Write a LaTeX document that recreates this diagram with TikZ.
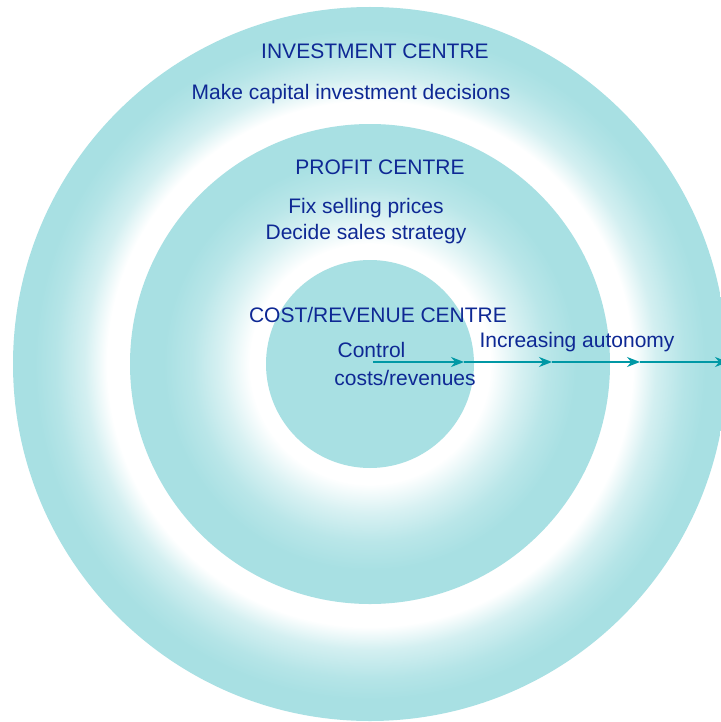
\documentclass[tikz,border=0pt]{standalone}
\usepackage{fontspec}
\setmainfont{Liberation Sans}
\usetikzlibrary{arrows.meta}
\definecolor{tq}{RGB}{168,224,227}
\definecolor{dblue}{RGB}{14,40,148}
\definecolor{tarrow}{RGB}{0,152,165}
\pgfdeclareradialshading{investring}{\pgfpoint{0bp}{0bp}}{color(0bp)=(white); color(18.4bp)=(white); color(20bp)=(tq!50!white); color(22bp)=(tq!85!white); color(23.5bp)=(tq); color(25bp)=(tq); color(50bp)=(tq)}
\pgfdeclareradialshading{profitring}{\pgfpoint{0bp}{0bp}}{color(0bp)=(white); color(12.5bp)=(white); color(15.5bp)=(tq!45!white); color(18.5bp)=(tq!80!white); color(21.5bp)=(tq); color(25bp)=(tq); color(50bp)=(tq)}
\tikzset{
  lbl/.style={text=dblue,inner sep=0pt,anchor=base,font=\fontsize{10.5}{12.6}\selectfont},
  autarrow/.style={draw=tarrow,line width=0.65pt,-{Stealth[length=6.5pt,width=5pt]}},
}

\begin{document}
\begin{tikzpicture}[x=0.5pt,y=-0.5pt]
\useasboundingbox (0,0) rectangle (721,722);
\clip (0,0) rectangle (721,722);
\fill[white] (0,0) rectangle (721,722);
\shade[shading=investring] (370,364) circle (178.5pt);
\shade[shading=profitring] (370,364) circle (120pt);
\fill[tq] (370,364) circle (52pt);
\node[lbl] (inv) at (375,59) {INVESTMENT CENTRE};
\node[lbl] (invtask) at (351,99) {Make capital investment decisions};
\node[lbl] (prof) at (380,174) {PROFIT CENTRE};
\node[lbl] (proftaska) at (366,213) {Fix selling prices};
\node[lbl] (proftaskb) at (366,239) {Decide sales strategy};
\node[lbl] (cost) at (378,322) {COST/REVENUE CENTRE};
\node[lbl] (costtaska) at (371.5,357) {Control};
\node[lbl] (costtaskb) at (405,385) {costs/revenues};
\node[lbl] (auton) at (577,347) {Increasing autonomy};
\coordinate (a0) at (373,362);
\coordinate (a1) at (464,362);
\coordinate (a2) at (552,362);
\coordinate (a3) at (640,362);
\coordinate (a4) at (728,362);
\draw[autarrow] (a0) -- (a1);
\draw[autarrow] (a1) -- (a2);
\draw[autarrow] (a2) -- (a3);
\draw[autarrow] (a3) -- (a4);
\end{tikzpicture}
\end{document}
